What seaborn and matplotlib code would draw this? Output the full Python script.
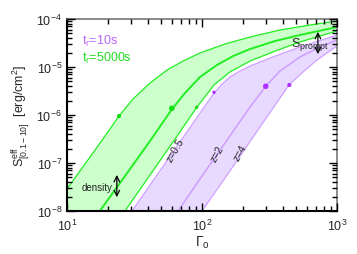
import numpy as np
import pandas as pd
import matplotlib
matplotlib.use("Agg")
import matplotlib.pyplot as plt
from matplotlib.ticker import LogLocator, NullFormatter
import seaborn as sns

# curves: Gamma_0 and S
gu_x = [10.0, 14.8, 20.8, 24.3, 30.8, 41.2, 55.1, 72.3, 96.6, 148, 227, 378, 631, 1000]
gu_y = [2.87e-8, 1.33e-7, 5.11e-7, 9.53e-7, 2.15e-6, 4.64e-6, 8.66e-6, 1.33e-5, 1.96e-5,
        3.01e-5, 4.22e-5, 5.90e-5, 7.50e-5, 9.08e-5]
gm_x = [17.5, 29.3, 41.2, 60.0, 74.8, 96.6, 129, 170, 227, 348, 532, 1000]
gm_y = [1e-8, 7.50e-8, 2.87e-7, 1.33e-6, 2.87e-6, 6.19e-6, 1.10e-5, 1.69e-5, 2.37e-5,
        3.48e-5, 4.64e-5, 6.81e-5]
gl_x = [26.9, 41.2, 63.1, 91.8, 122.7, 161, 227, 348, 532, 1000]
gl_y = [1e-8, 5.62e-8, 3.16e-7, 1.47e-6, 4.22e-6, 7.87e-6, 1.33e-5, 2.15e-5, 3.32e-5, 5.62e-5]

pu_x = [30.3, 46.4, 71.1, 105, 122.7, 141, 161, 191, 227, 348, 532, 1000]
pu_y = [1e-8, 5.62e-8, 3.16e-7, 1.54e-6, 2.87e-6, 4.42e-6, 6.19e-6, 8.25e-6, 1.05e-5,
        1.69e-5, 2.61e-5, 4.64e-5]
pm_x = [66.4, 96.6, 148, 227, 298, 378, 532, 748, 1000]
pm_y = [1e-8, 4.64e-8, 2.61e-7, 1.47e-6, 4.02e-6, 8.25e-6, 1.62e-5, 2.61e-5, 3.65e-5]
pl_x = [100, 161, 269, 441, 560, 711, 1000]
pl_y = [1e-8, 6.81e-8, 5.62e-7, 4.22e-6, 7.87e-6, 1.40e-5, 2.74e-5]

dots_g_x = [24.3, 59.7, 91.4]
dots_g_y = [9.53e-7, 1.38e-6, 1.45e-6]
dots_p_x = [122.7, 296.5, 443.6]
dots_p_y = [2.97e-6, 3.97e-6, 4.22e-6]

xlim = (10, 1000)
ylim = (1e-8, 1e-4)

green = "#22ee22"
green_fill = "#ccffcc"
purple = "#cc99ff"
purple_fill = "#e8d9ff"
purple_dot = "#b030ff"

sns.set_style("ticks")
plt.rcParams['font.family'] = ['Liberation Sans', 'DejaVu Sans']
plt.rcParams['mathtext.fontset'] = 'custom'
plt.rcParams['mathtext.rm'] = 'Liberation Sans'
plt.rcParams['mathtext.it'] = 'Liberation Sans'

fig = plt.figure(figsize=(3.57, 2.55), dpi=100)
ax = fig.add_axes([67/357, 1-212/255, 270/357, 192/255])

# bands
ax.fill(np.concatenate([gu_x, gl_x[::-1], [xlim[0]]]),
        np.concatenate([gu_y, gl_y[::-1], [ylim[0]]]),
        color=green_fill, lw=0, zorder=1)
ax.fill(np.concatenate([pu_x, pl_x[::-1]]),
        np.concatenate([pu_y, pl_y[::-1]]),
        color=purple_fill, lw=0, zorder=1)

for xs, ys, c, w in [(gu_x, gu_y, green, 0.9), (gm_x, gm_y, green, 1.4), (gl_x, gl_y, green, 0.9),
                     (pu_x, pu_y, purple, 0.8), (pm_x, pm_y, purple, 1.0), (pl_x, pl_y, purple, 0.8)]:
    d = pd.DataFrame({"g": xs, "s": ys})
    sns.lineplot(data=d, x="g", y="s", color=c, lw=w, ax=ax, zorder=2)

ax.scatter(dots_g_x, dots_g_y, s=[9, 16, 6], color="#11dd11", zorder=2.2, lw=0)
ax.scatter(dots_p_x, dots_p_y, s=[6, 16, 9], color=purple_dot, zorder=2.2, lw=0)

ax.set_xscale("log")
ax.set_yscale("log")
ax.set_xlim(*xlim)
ax.set_ylim(*ylim)
for axis in (ax.xaxis, ax.yaxis):
    axis.set_major_locator(LogLocator(base=10, numticks=10))
    axis.set_minor_locator(LogLocator(base=10, subs=np.arange(2, 10), numticks=10))
    axis.set_minor_formatter(NullFormatter())

for s in ["bottom", "left"]:
    ax.spines[s].set_linewidth(1.5)
    ax.spines[s].set_color("black")
for s in ["top", "right"]:
    ax.spines[s].set_linewidth(1.2)
    ax.spines[s].set_color("#777777")

ax.set_xlabel(r"$\Gamma_{\rm o}$", fontsize=10, labelpad=0)
ax.set_ylabel(r"S$^{\rm eff}_{[0.1-10]}$  [erg/cm$^2$]", fontsize=9, labelpad=3)

ax.text(0.056, 0.89, r"t$_{\rm r}$=10s", color="#bb66ff", fontsize=9, transform=ax.transAxes, va="center")
ax.text(0.056, 0.80, r"t$_{\rm r}$=5000s", color="#22dd22", fontsize=9, transform=ax.transAxes, va="center")

ax.annotate("", xy=(23.4, 10**-7.19), xytext=(23.4, 10**-7.77),
            arrowprops=dict(arrowstyle="<->", lw=0.9, color="black"))
ax.text(21.9, 10**-7.5, "density", fontsize=7, ha="right", va="center")
ax.annotate("", xy=(722, 10**-4.21), xytext=(722, 10**-4.79),
            arrowprops=dict(arrowstyle="<->", lw=0.9, color="black"))
ax.text(456, 10**-4.52, r"S$_{\rm prompt}$", fontsize=9, ha="left", va="center")

ax.text(63.1, 10**-6.71, "z=0.5", fontsize=7.5, rotation=60, ha="center", va="center")
ax.text(129, 10**-6.79, "z=2", fontsize=7.5, rotation=60, ha="center", va="center")
ax.text(191, 10**-6.77, "z=4", fontsize=7.5, rotation=60, ha="center", va="center")

ax.set_axisbelow(False)
ax.tick_params(which="both", direction="in", top=True, right=True, bottom=True, left=True,
               labelsize=9, width=1.0, color="black")
ax.tick_params(which="major", length=6)
ax.tick_params(which="minor", length=3.5)
ax.tick_params(axis="x", pad=5)

fig.savefig("out.png", dpi=100)
